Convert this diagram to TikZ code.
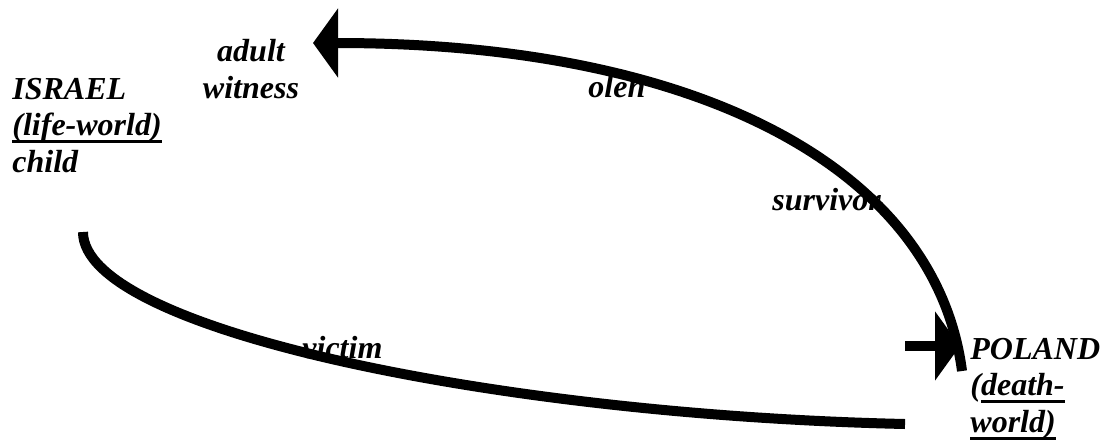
\documentclass[tikz,border=0pt]{standalone}
\usepackage{fontspec}
\setmainfont{Liberation Serif}
\usetikzlibrary{arrows.meta}
\newcommand{\ulword}[1]{\setbox0\hbox{#1}\rlap{\rule[-3.8pt]{\wd0}{1.5pt}}\box0}
\begin{document}
\begin{tikzpicture}[x=0.5pt, y=-0.5pt,
  lbl/.style={font=\bfseries\itshape\fontsize{16}{18.25}\selectfont, inner sep=0pt, align=left},
  band/.style={line width=5pt},
  flow/.style={line width=5pt, -{Triangle[length=12.5pt, width=34pt]}}]
  \useasboundingbox (0,0) rectangle (1106,439);
  % 글자 (여러 줄이면 마지막 줄의 기준선)
  \node[lbl, anchor=base west] (israel) at (12,172) {ISRAEL\\\ulword{(life-world)}\\child};
  \node[lbl, anchor=base, align=center] (witness) at (251,98) {adult\\witness};
  \node[lbl, anchor=base west] (oleh) at (588,97) {oleh};
  \node[lbl, anchor=base west] (survivor) at (772,210) {survivor};
  \node[lbl, anchor=base west] (victim) at (302,358) {victim};
  \node[lbl, anchor=base west] (poland) at (970,432) {POLAND\\(\ulword{death-}\\\ulword{world)}};
  % 곡선의 끝점
  \coordinate (childend) at (83,232);
  \coordinate (victimend) at (905,424);
  \coordinate (polandtop) at (962,371);
  \coordinate (witnesstip) at (313,43);
  \coordinate (stubstart) at (905,346);
  \coordinate (stubtip) at (960,346);
  % 화살표
  \draw[band] (childend) .. controls (83,330) and (500,415) .. (victimend);
  \draw[flow] (polandtop) .. controls (936,171) and (703,43) .. (witnesstip);
  \draw[flow] (stubstart) -- (stubtip);
\end{tikzpicture}
\end{document}
